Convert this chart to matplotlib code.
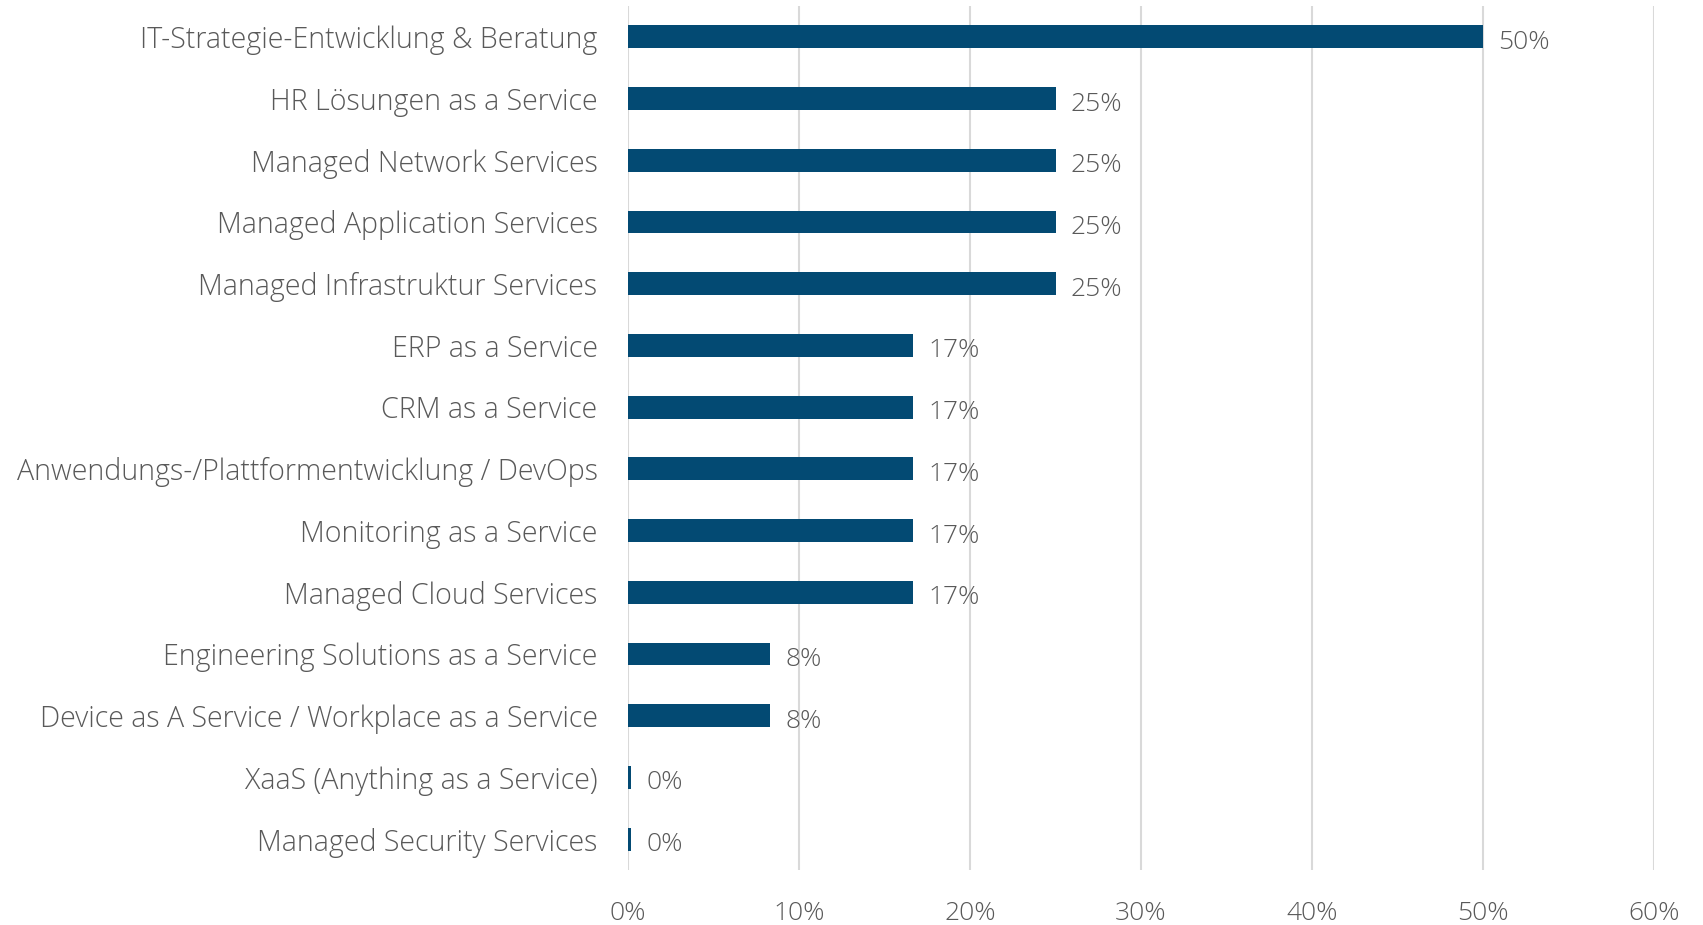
import matplotlib
matplotlib.use("Agg")
import matplotlib.pyplot as plt
from matplotlib.ticker import FuncFormatter

categories = [
    "IT-Strategie-Entwicklung & Beratung",
    "HR Lösungen as a Service",
    "Managed Network Services",
    "Managed Application Services",
    "Managed Infrastruktur Services",
    "ERP as a Service",
    "CRM as a Service",
    "Anwendungs-/Plattformentwicklung / DevOps",
    "Monitoring as a Service",
    "Managed Cloud Services",
    "Engineering Solutions as a Service",
    "Device as A Service / Workplace as a Service",
    "XaaS (Anything as a Service)",
    "Managed Security Services",
]
values = [0.50, 0.25, 0.25, 0.25, 0.25, 0.1667, 0.1667, 0.1667, 0.1667, 0.1667,
          0.0833, 0.0833, 0.002, 0.002]
xticks = [0, 0.1, 0.2, 0.3, 0.4, 0.5, 0.6]

plt.rcParams['font.family'] = ['Open Sans', 'DejaVu Sans']
text_color = "#595959"
bar_color = "#034A73"

fig = plt.figure(figsize=(17.03, 9.25), dpi=100)
ax = fig.add_axes([0.3688, 0.0595, 0.6024, 0.934])

y = list(range(len(categories)))
ax.barh(y, values, height=0.37, color=bar_color, zorder=3)
ax.set_ylim(len(categories) - 0.5, -0.5)
ax.set_xlim(0, 0.6)
ax.set_xticks(xticks)
ax.xaxis.set_major_formatter(FuncFormatter(lambda v, p: f"{v*100:.0f}%"))
ax.set_yticks(y)
ax.set_yticklabels(categories)
ax.grid(axis='x', color="#d9d9d9", linewidth=1.5, zorder=0)
for s in ax.spines.values():
    s.set_visible(False)
ax.tick_params(axis='both', length=0, labelcolor=text_color)
ax.tick_params(axis='x', pad=22, labelsize=19)
ax.tick_params(axis='y', pad=22, labelsize=20.6)
for lab in ax.get_xticklabels() + ax.get_yticklabels():
    lab.set_fontweight('light')

for yi, v in zip(y, values):
    ax.annotate(f"{round(v*100):.0f}%", xy=(v, yi), xytext=(11, -4),
                textcoords='offset points', va='center', ha='left',
                fontsize=19, color=text_color, fontweight='light')

fig.savefig("out.png", dpi=100)
